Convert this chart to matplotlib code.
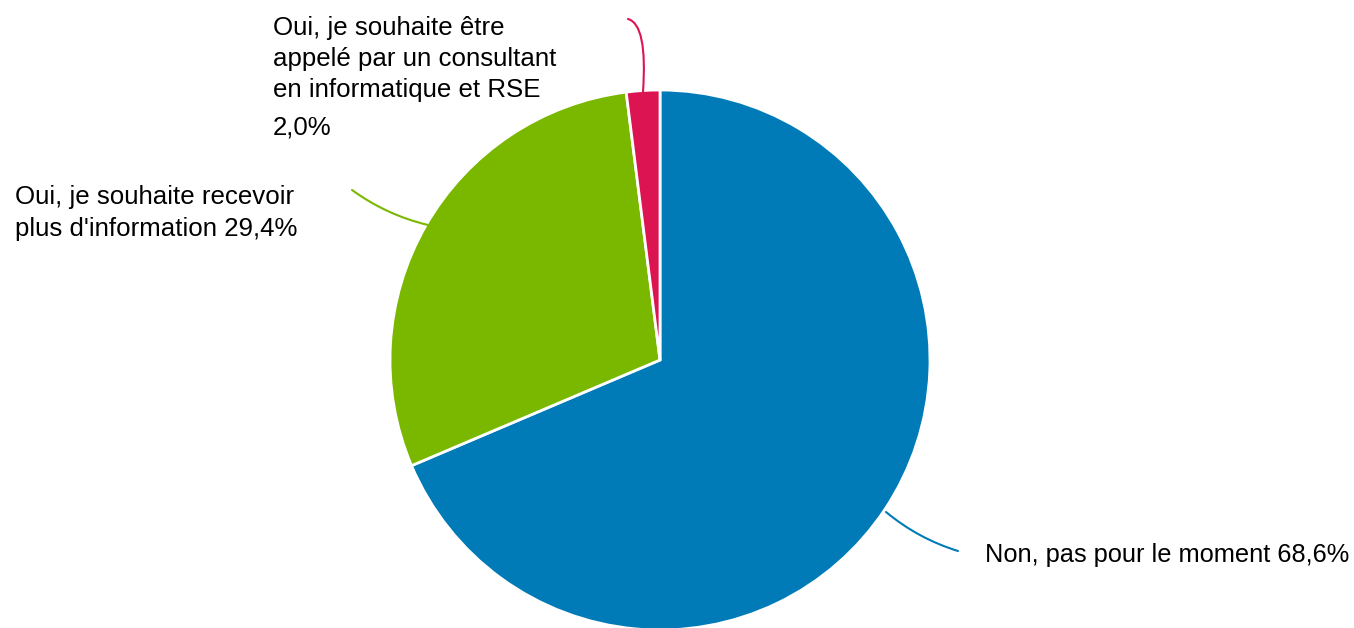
import matplotlib
matplotlib.use("Agg")
import matplotlib.pyplot as plt

plt.rcParams['font.family'] = ['Liberation Sans', 'DejaVu Sans']

# Survey answers
labels = ["Non, pas pour le moment",
          "Oui, je souhaite recevoir\nplus d'information",
          "Oui, je souhaite être\nappelé par un consultant\nen informatique et RSE"]
values = [68.6, 29.4, 2.0]
colors = ["#007BB8", "#7AB800", "#DC1452"]

fig = plt.figure(figsize=(13.54, 6.28), dpi=100)
ax = fig.add_axes([0, 0, 1, 1])

cx, cy, r = 660, 268, 270
wedges, _ = ax.pie(values, colors=colors, startangle=90, counterclock=False,
                   center=(cx, cy), radius=r, frame=True,
                   wedgeprops=dict(edgecolor='white', linewidth=2))
ax.set_xlim(0, 1354)
ax.set_ylim(0, 628)
ax.set_aspect('equal')
ax.axis('off')

def fmt(v):
    return f"{v:.1f}%".replace('.', ',')

fs = 18.6
line = dict(arrowstyle='-', lw=1.5, shrinkA=0, shrinkB=0)

# blue
ax.text(985, 73, f"{labels[0]} {fmt(values[0])}", ha='left', va='center', fontsize=18.3)
ax.annotate("", xy=(886, 116), xytext=(958, 77),
            arrowprops=dict(line, color=colors[0], connectionstyle="arc3,rad=-0.1"))
# green
ax.text(15, 415, f"{labels[1]} {fmt(values[1])}", ha='left', va='center',
        fontsize=fs, linespacing=1.38)
ax.annotate("", xy=(428, 403), xytext=(352, 438),
            arrowprops=dict(line, color=colors[1], connectionstyle="arc3,rad=0.1"))
# red
ax.text(273, 569, labels[2], ha='left', va='center', fontsize=fs, linespacing=1.35)
ax.text(273, 500, fmt(values[2]), ha='left', va='center', fontsize=fs)
ax.annotate("", xy=(643, 536), xytext=(628, 609),
            arrowprops=dict(line, color=colors[2],
                            connectionstyle="angle3,angleA=-15,angleB=86"))

fig.savefig("out.png", dpi=100)
